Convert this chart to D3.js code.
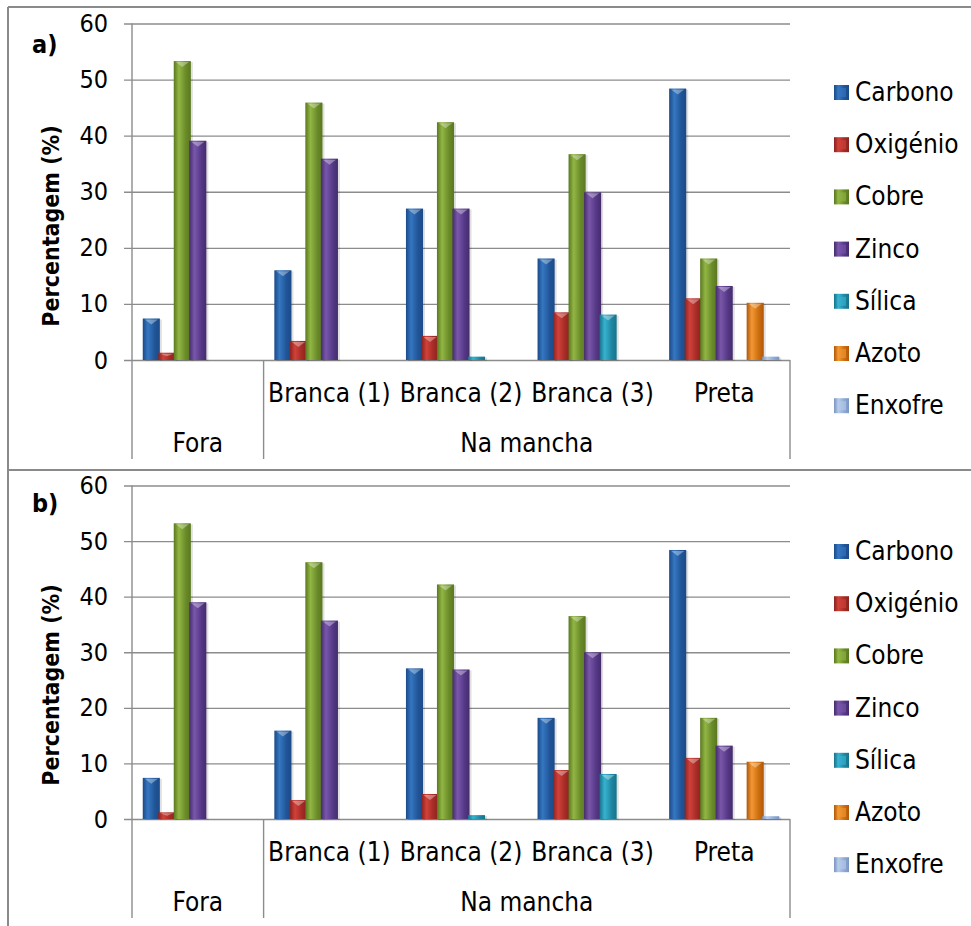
<!DOCTYPE html>
<html>
<head>
<meta charset="utf-8">
<script src="https://cdn.jsdelivr.net/npm/d3@7"></script>
<style>
  html, body { margin: 0; padding: 0; background: #fff; }
  svg { display: block; }
  text { font-family: "DejaVu Sans Condensed", "DejaVu Sans", sans-serif; fill: #000; }
</style>
</head>
<body>
<svg id="chart" width="971" height="926"></svg>
<script>
// ---- data ----
const categories = ["Fora", "Branca (1)", "Branca (2)", "Branca (3)", "Preta"];
const subLabels = ["", "Branca (1)", "Branca (2)", "Branca (3)", "Preta"];
const outerLabels = ["Fora", "Na mancha"];
const outerSpans = [1, 4];
const series = ["Carbono", "Oxigénio", "Cobre", "Zinco", "Sílica", "Azoto", "Enxofre"];
const yTicks = [0, 10, 20, 30, 40, 50, 60];

// panel a)
const carbonoA  = [7.4, 16.0, 27.0, 18.1, 48.4];
const oxigenioA = [1.3, 3.4, 4.3, 8.5, 11.0];
const cobreA    = [53.3, 45.9, 42.4, 36.7, 18.1];
const zincoA    = [39.1, 35.9, 27.0, 29.9, 13.2];
const silicaA   = [0, 0, 0.6, 8.1, 0];
const azotoA    = [0, 0, 0, 0, 10.2];
const enxofreA  = [0, 0, 0, 0, 0.6];

// panel b)
const carbonoB  = [7.4, 15.9, 27.1, 18.2, 48.4];
const oxigenioB = [1.2, 3.4, 4.5, 8.8, 11.0];
const cobreB    = [53.2, 46.2, 42.2, 36.5, 18.2];
const zincoB    = [39.0, 35.7, 26.9, 30.0, 13.2];
const silicaB   = [0, 0, 0.7, 8.1, 0];
const azotoB    = [0, 0, 0, 0, 10.3];
const enxofreB  = [0, 0, 0, 0, 0.5];

const colors = {
  "Carbono":  ["#1b4a88", "#3577c2", "#215598"],
  "Oxigénio": ["#8a221e", "#d0413a", "#a52b26"],
  "Cobre":    ["#5a781f", "#92b644", "#6a8b29"],
  "Zinco":    ["#452c6c", "#7957aa", "#553887"],
  "Sílica":   ["#17738b", "#38b2d0", "#1f87a2"],
  "Azoto":    ["#b0570b", "#f29833", "#cd6e0f"],
  "Enxofre":  ["#7b95c2", "#b6cbea", "#8ea9d4"]
};

// ---- drawing ----
const svg = d3.select("#chart");
const W = 971;
const defs = svg.append("defs");
series.forEach((s, i) => {
  const c = colors[s];
  const g = defs.append("linearGradient").attr("id", "g" + i)
    .attr("x1", "0").attr("x2", "1").attr("y1", "0").attr("y2", "0");
  g.append("stop").attr("offset", "0%").attr("stop-color", c[0]);
  g.append("stop").attr("offset", "30%").attr("stop-color", c[1]);
  g.append("stop").attr("offset", "70%").attr("stop-color", c[2]);
  g.append("stop").attr("offset", "100%").attr("stop-color", c[0]);
});

// outer frame
const frame = svg.append("g").attr("stroke", "#8a8a8a").attr("stroke-width", 2);
frame.append("line").attr("x1", 8).attr("x2", W).attr("y1", 7).attr("y2", 7);
frame.append("line").attr("x1", 8).attr("x2", 8).attr("y1", 7).attr("y2", 926);
frame.append("line").attr("x1", 8).attr("x2", W).attr("y1", 470).attr("y2", 470);

const panels = [
  { label: "a)", top: 23.5, bottom: 360, lineBottom: 459, dy: 0,
    data: [carbonoA, oxigenioA, cobreA, zincoA, silicaA, azotoA, enxofreA] },
  { label: "b)", top: 485.5, bottom: 819, lineBottom: 918, dy: 459,
    data: [carbonoB, oxigenioB, cobreB, zincoB, silicaB, azotoB, enxofreB] }
];

const plotLeft = 132, plotRight = 790, tickLeft = 124;
const x = d3.scaleBand().domain(categories).range([plotLeft, plotRight]);
const xs = d3.scaleBand().domain(series).range([0, x.bandwidth()])
  .paddingInner(0).paddingOuter(0.745);

panels.forEach(p => {
  const g = svg.append("g");
  const y = d3.scaleLinear().domain([0, 60]).range([p.bottom, p.top]);

  // gridlines + tick labels
  const axis = d3.axisLeft(y).tickValues(yTicks).tickSize(plotRight - tickLeft).tickPadding(16);
  const ag = g.append("g").attr("transform", `translate(${plotRight},0)`).call(axis);
  ag.select(".domain").remove();
  ag.selectAll(".tick line").attr("stroke", "#8c8c8c").attr("stroke-width", 1.4);
  ag.selectAll(".tick text").style("font-size", "25px").attr("fill", "#000");

  // vertical axis and category dividers
  const lines = g.append("g").attr("stroke", "#8c8c8c").attr("stroke-width", 1.4);
  lines.append("line").attr("x1", plotLeft).attr("x2", plotLeft).attr("y1", p.top).attr("y2", p.lineBottom);
  let idx = 0;
  outerSpans.forEach(n => {
    idx += n;
    const xx = idx < categories.length ? x(categories[idx]) : plotRight;
    lines.append("line").attr("x1", xx).attr("x2", xx).attr("y1", p.bottom).attr("y2", p.lineBottom);
  });

  // bars
  series.forEach((s, si) => {
    const vals = p.data[si];
    const bw = xs.bandwidth() + 1.6;
    const bars = g.append("g");
    categories.forEach((c, ci) => {
      const v = vals[ci];
      if (!v) return;
      const x0 = x(c) + xs(s) - 0.8;
      const y0 = y(v), h = y(0) - y(v);
      bars.append("rect").attr("x", x0 + 2).attr("y", y0 + 1).attr("width", bw).attr("height", h)
        .attr("fill", "#000").attr("opacity", 0.12);
      bars.append("rect").attr("x", x0).attr("y", y0).attr("width", bw).attr("height", h)
        .attr("fill", `url(#g${si})`);
      if (h > 4) {
        const tH = Math.min(6, h * 0.5);
        bars.append("path")
          .attr("d", `M${x0 + 2},${y0 + 1} L${x0 + bw - 2},${y0 + 1} L${x0 + bw / 2},${y0 + tH} Z`)
          .attr("fill", "#fff").attr("opacity", 0.35);
      }
    });
  });

  // category labels
  categories.forEach((c, ci) => {
    if (!subLabels[ci]) return;
    g.append("text").attr("x", x(c) + x.bandwidth() / 2).attr("y", p.bottom + 42)
      .attr("text-anchor", "middle").style("font-size", "26px").text(subLabels[ci]);
  });
  let start = 0;
  outerLabels.forEach((lab, li) => {
    const a = x(categories[start]);
    const endIdx = start + outerSpans[li];
    const b = endIdx < categories.length ? x(categories[endIdx]) : plotRight;
    g.append("text").attr("x", (a + b) / 2).attr("y", p.bottom + 92)
      .attr("text-anchor", "middle").style("font-size", "26px").text(lab);
    start = endIdx;
  });

  // y title
  g.append("text").attr("transform", `translate(59,${226 + p.dy}) rotate(-90)`)
    .attr("text-anchor", "middle").style("font-size", "23px").style("font-weight", "bold")
    .text("Percentagem (%)");

  // panel label
  g.append("text").attr("x", 32).attr("y", 53 + p.dy)
    .style("font-size", "25px").style("font-weight", "bold").text(p.label);

  // legend
  const lg = g.append("g");
  series.forEach((s, si) => {
    const cy = 92 + p.dy + si * 52.2;
    lg.append("rect").attr("x", 834).attr("y", cy - 7).attr("width", 15).attr("height", 15)
      .attr("fill", `url(#g${si})`);
    lg.append("rect").attr("x", 837).attr("y", cy - 4).attr("width", 9).attr("height", 9)
      .attr("fill", colors[s][1]).attr("opacity", 0.6);
    lg.append("text").attr("x", 855).attr("y", cy + 9).style("font-size", "26px").text(s);
  });
});
</script>
</body>
</html>
